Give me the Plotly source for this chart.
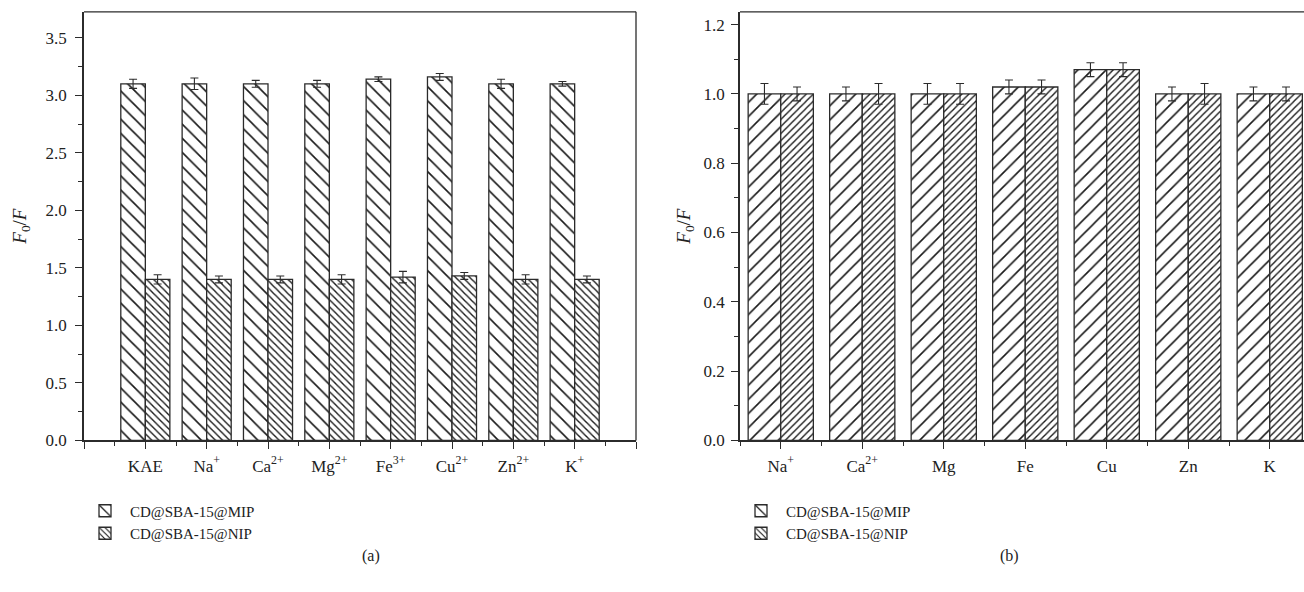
import plotly.graph_objects as go

# ---- panel (a): selectivity toward KAE and common ions ----
labels_a = ["KAE", "Na<sup>+</sup>", "Ca<sup>2+</sup>", "Mg<sup>2+</sup>",
            "Fe<sup>3+</sup>", "Cu<sup>2+</sup>", "Zn<sup>2+</sup>", "K<sup>+</sup>"]
mip_a = [3.10, 3.10, 3.10, 3.10, 3.14, 3.16, 3.10, 3.10]
mip_a_err = [0.04, 0.05, 0.03, 0.03, 0.02, 0.03, 0.04, 0.02]
nip_a = [1.40, 1.40, 1.40, 1.40, 1.42, 1.43, 1.40, 1.40]
nip_a_err = [0.04, 0.03, 0.03, 0.04, 0.05, 0.03, 0.04, 0.03]

# ---- panel (b): response to ions alone ----
labels_b = ["Na<sup>+</sup>", "Ca<sup>2+</sup>", "Mg", "Fe", "Cu", "Zn", "K"]
mip_b = [1.00, 1.00, 1.00, 1.02, 1.07, 1.00, 1.00]
mip_b_err = [0.03, 0.02, 0.03, 0.02, 0.02, 0.02, 0.02]
nip_b = [1.00, 1.00, 1.00, 1.02, 1.07, 1.00, 1.00]
nip_b_err = [0.02, 0.03, 0.03, 0.02, 0.02, 0.03, 0.02]

series_names = ["CD@SBA-15@MIP", "CD@SBA-15@NIP"]

FONT = "Liberation Serif"
INK = "#2b2b2b"
TXT = "#222"
W, H = 1304, 592

xa = list(range(len(labels_a)))
xb = list(range(len(labels_b)))


def pattern(shape, size, solidity):
    return dict(shape=shape, size=size, solidity=solidity,
                fgcolor="#1a1a1a", bgcolor="white", fillmode="replace")


def bar(x, y, err, name, pat, xaxis, yaxis, offset, showlegend, legend="legend"):
    return go.Bar(
        x=x, y=y, name=name, xaxis=xaxis, yaxis=yaxis,
        width=0.4, offset=offset,
        marker=dict(color="white", pattern=pat,
                    line=dict(color=INK, width=1.3)),
        error_y=dict(type="data", array=err, color=INK, thickness=1.1, width=4),
        showlegend=showlegend, legend=legend,
    )


sparse_bs = pattern("\\", 10, 0.16)
dense_bs = pattern("\\", 5, 0.28)
sparse_fs = pattern("/", 10, 0.16)
dense_fs = pattern("/", 5, 0.28)

fig = go.Figure()
fig.add_trace(bar(xa, mip_a, mip_a_err, series_names[0], sparse_bs, "x", "y", -0.4, True))
fig.add_trace(bar(xa, nip_a, nip_a_err, series_names[1], dense_bs, "x", "y", 0.0, True))
fig.add_trace(bar(xb, mip_b, mip_b_err, series_names[0], sparse_fs, "x2", "y2", -0.4, False))
fig.add_trace(bar(xb, nip_b, nip_b_err, series_names[1], dense_fs, "x2", "y2", 0.0, False))

# key entries for the second panel's legend
for name, pat in zip(series_names, [sparse_bs, dense_bs]):
    fig.add_trace(go.Bar(
        x=[None], y=[None], name=name, xaxis="x2", yaxis="y2",
        marker=dict(color="white", pattern=pat, line=dict(color=INK, width=1.3)),
        showlegend=True, legend="legend2",
    ))

tick_font = dict(family=FONT, size=17, color=TXT)
axis_common = dict(
    showline=True, linecolor=INK, linewidth=1.5, mirror=False,
    ticks="outside", tickcolor=INK, tickwidth=1.3, ticklen=7,
    showgrid=False, zeroline=False, tickfont=tick_font,
)
minor_common = dict(ticks="outside", ticklen=4, tickcolor=INK, tickwidth=1.2)

y_dom = [1 - 448 / H, 1 - 12 / H]
title_font = dict(family=FONT, size=19, color=TXT)
legend_font = dict(family=FONT, size=15, color=TXT)

fig.update_layout(
    width=W, height=H,
    margin=dict(l=0, r=0, t=0, b=0),
    paper_bgcolor="white", plot_bgcolor="white",
    font=dict(family=FONT, size=16, color=TXT),
    barmode="overlay",
    xaxis=dict(
        **axis_common, domain=[84 / W, 636 / W], range=[-1, 8],
        tickmode="array", tickvals=list(range(-1, len(labels_a) + 1)),
        ticktext=[""] + labels_a + [""],
        minor=dict(**minor_common, tickmode="linear", tick0=-0.5, dtick=1),
        anchor="y", ticklabelstandoff=2,
    ),
    yaxis=dict(
        **axis_common, domain=y_dom, range=[0, 3.726],
        tickmode="linear", tick0=0, dtick=0.5, tickformat=".1f",
        minor=dict(**minor_common, dtick=0.25),
        title=dict(text="<i>F</i><sub>0</sub>/<i>F</i>", font=title_font, standoff=14),
        anchor="x", ticklabelstandoff=5,
    ),
    xaxis2=dict(
        **axis_common, domain=[740 / W, 1.0], range=[-0.5, -0.5 + (W - 740) / 81.5],
        tickmode="array", tickvals=xb, ticktext=labels_b,
        minor=dict(**minor_common, tickmode="linear", tick0=-0.5, dtick=1),
        anchor="y2", ticklabelstandoff=2,
    ),
    yaxis2=dict(
        **axis_common, domain=y_dom, range=[0, 1.237],
        tickmode="linear", tick0=0, dtick=0.2, tickformat=".1f",
        minor=dict(**minor_common, dtick=0.1),
        title=dict(text="<i>F</i><sub>0</sub>/<i>F</i>", font=title_font, standoff=8),
        anchor="x2", ticklabelstandoff=3,
    ),
    legend=dict(
        x=80 / W, y=1 - 503 / H, xanchor="left", yanchor="top",
        bgcolor="rgba(0,0,0,0)", font=legend_font,
        tracegroupgap=0, itemwidth=40,
    ),
    legend2=dict(
        x=736 / W, y=1 - 503 / H, xanchor="left", yanchor="top",
        bgcolor="rgba(0,0,0,0)", font=legend_font,
        tracegroupgap=0, itemwidth=40,
    ),
)

# top frame line of each panel
for xd in [[84 / W, 636 / W], [740 / W, 1.0]]:
    fig.add_shape(type="line", xref="paper", yref="paper",
                  x0=xd[0], x1=xd[1], y0=y_dom[1], y1=y_dom[1],
                  line=dict(color=INK, width=1.3))
# right frame line of panel (a)
fig.add_shape(type="line", xref="paper", yref="paper",
              x0=636 / W, x1=636 / W, y0=y_dom[0], y1=y_dom[1],
              line=dict(color=INK, width=1.3))

# panel captions
for txt, xc in [("(a)", 360), ("(b)", 1021)]:
    fig.add_annotation(text=txt, xref="paper", yref="paper",
                       x=xc / W, y=1 - 577 / H, showarrow=False,
                       font=dict(family=FONT, size=16, color=TXT))

fig.write_html("out.html")
